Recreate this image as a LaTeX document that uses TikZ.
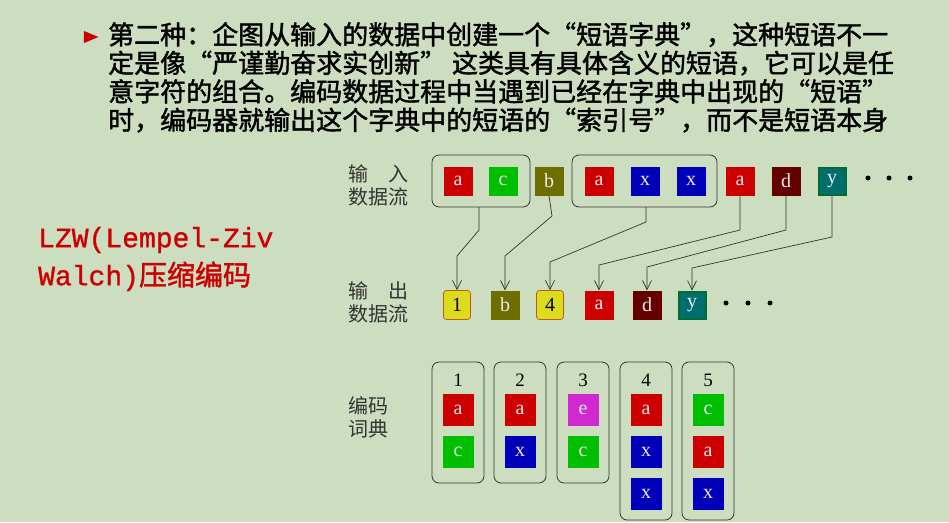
\documentclass[tikz,border=0pt]{standalone}
\usepackage{fontspec}
\usetikzlibrary{shapes.geometric,arrows.meta}
\setmainfont{Liberation Serif}
\newfontfamily\cjk{Noto Sans CJK SC}
\newfontfamily\cjkb[FakeBold=1.5]{Noto Sans CJK SC}
\newfontfamily\monof[FakeBold=1]{Liberation Mono}
\begin{document}
\begin{tikzpicture}[x=1pt,y=-1pt,
  sq/.style={minimum width=29pt,minimum height=29pt,inner sep=0pt,text=white!85!gray,font=\fontsize{20}{20}\selectfont},
  dsq/.style={sq,minimum width=31pt,minimum height=32pt},
  grp/.style={draw=black!80,rounded corners=7pt,line width=0.8pt},
  arr/.style={draw=black!80,line width=0.7pt,->,>={Straight Barb[length=9pt,width=9pt]}},
  lab/.style={font=\cjk\fontsize{20}{23}\selectfont,align=left,text=black!80,anchor=west},
  dot/.style={circle,fill=black,inner sep=0pt,minimum size=5pt}]
\useasboundingbox (0,0) rectangle (949,522);
\fill[fill={rgb,255:red,204;green,221;blue,192}] (0,0) rectangle (949,522);
\definecolor{cr}{RGB}{204,0,0}\definecolor{cg}{RGB}{0,190,0}\definecolor{co}{RGB}{110,110,0}
\definecolor{cb}{RGB}{0,0,185}\definecolor{cd}{RGB}{100,0,0}\definecolor{ct}{RGB}{0,110,110}
\definecolor{cy}{RGB}{220,220,30}\definecolor{cm}{RGB}{210,40,210}
% text
\node[fill=cr,isosceles triangle,inner sep=0pt,minimum height=10pt,minimum width=12pt] (bul) at (88,37) {};
\node[anchor=north west,align=left,font=\cjkb\fontsize{26}{28.5}\selectfont,inner sep=0pt] (txt) at (108,22)
{第二种：企图从输入的数据中创建一个“短语字典”，这种短语不一\\定是像“严谨勤奋求实创新” 这类具有具体含义的短语，它可以是任\\意字符的组合。编码数据过程中当遇到已经在字典中出现的“短语”\\时，编码器就输出这个字典中的短语的“索引号”，而不是短语本身};
\node[anchor=west,align=left,text=cr,font=\fontsize{28}{38}\selectfont,inner sep=0pt] (lzw) at (38,259)
{\monof LZW(Lempel-Ziv\\\monof Walch)\cjkb 压缩编码};
% labels
\node[lab] (lin) at (345,185) {输\hspace{1em}入\\数据流};
\node[lab] (lout) at (345,302) {输\hspace{1em}出\\数据流};
\node[lab] (ldic) at (345,417) {编码\\词典};
% input
\node[sq,fill=cr] (i1) at (458,181) {a};
\node[sq,fill=cg] (i2) at (503,181) {c};
\node[sq,fill=co] (i3) at (549,181) {b};
\node[sq,fill=cr] (i4) at (599,181) {a};
\node[sq,fill=cb] (i5) at (645,181) {x};
\node[sq,fill=cb] (i6) at (691,181) {x};
\node[sq,fill=cr] (i7) at (740,181) {a};
\node[sq,fill=cd] (i8) at (786,181) {d};
\node[sq,fill=ct,draw={rgb,255:red,0;green,110;blue,50},line width=2pt,minimum width=27pt,minimum height=27pt] (i9) at (832,181) {y};
\node[dot] (d1) at (868,178) {};\node[dot] (d2) at (889,178) {};\node[dot] (d3) at (910,178) {};
\draw[grp] (432,155) rectangle (530,207);
\draw[grp] (572,155) rectangle (717,207);
\coordinate (g1) at (479,207);\coordinate (g2) at (646,207);
% output
\node[sq,fill=cy,draw={rgb,255:red,200;green,90;blue,20},rounded corners=3pt,text=black,line width=0.8pt,minimum width=27pt] (o1) at (457,305) {1};
\node[sq,fill=co] (o2) at (505,305) {b};
\node[sq,fill=cy,draw={rgb,255:red,200;green,90;blue,20},rounded corners=3pt,text=black,line width=0.8pt,minimum width=27pt] (o3) at (550,305) {4};
\node[sq,fill=cr] (o4) at (599,305) {a};
\node[sq,fill=cd] (o5) at (647,305) {d};
\node[sq,fill=ct,draw={rgb,255:red,0;green,110;blue,50},line width=2pt,minimum width=27pt,minimum height=27pt] (o6) at (692,305) {y};
\node[dot] (e1) at (726,303) {};\node[dot] (e2) at (748,303) {};\node[dot] (e3) at (770,303) {};
% arrows
\draw[arr] (g1) -- (479,230) -- (457,256) -- (o1.north);
\draw[arr] (i3.south) -- (552,216) -- (505,256) -- (o2.north);
\draw[arr] (g2) -- (646,222) -- (550,262) -- (o3.north);
\draw[arr] (i7.south) -- (740,230) -- (599,265) -- (o4.north);
\draw[arr] (i8.south) -- (786,230) -- (647,267) -- (o5.north);
\draw[arr] (i9.south) -- (832,237) -- (692,268) -- (o6.north);
% dictionary
\foreach \n/\x/\b in {1/458/483,2/520/483,3/583/483,4/646/520,5/708/520}{
  \draw[grp] (\x-26,362) rectangle (\x+26,\b);
  \node[font=\fontsize{19}{19}\selectfont] (n\n) at (\x,380) {\n};}
\node[dsq,fill=cr] (k11) at (458,410) {a};\node[dsq,fill=cg] (k12) at (458,452) {c};
\node[dsq,fill=cr] (k21) at (520,410) {a};\node[dsq,fill=cb] (k22) at (520,452) {x};
\node[dsq,fill=cm] (k31) at (583,410) {e};\node[dsq,fill=cg] (k32) at (583,452) {c};
\node[dsq,fill=cr] (k41) at (646,410) {a};\node[dsq,fill=cb] (k42) at (646,452) {x};\node[dsq,fill=cb] (k43) at (646,494) {x};
\node[dsq,fill=cg] (k51) at (708,410) {c};\node[dsq,fill=cr] (k52) at (708,452) {a};\node[dsq,fill=cb] (k53) at (708,494) {x};
\end{tikzpicture}
\end{document}
